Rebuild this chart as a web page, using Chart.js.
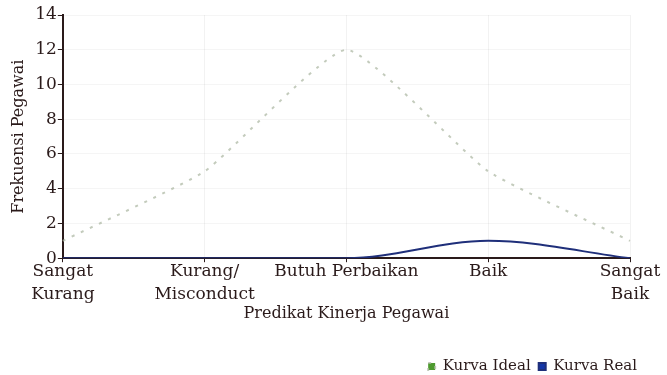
<!DOCTYPE html>
<html>
<head>
<meta charset="utf-8">
<style>
  html, body { margin: 0; padding: 0; background: #fff; }
  #wrap { width: 667px; height: 375px; }
</style>
<script src="https://cdn.jsdelivr.net/npm/chart.js@4/dist/chart.umd.min.js"></script>
</head>
<body>
<div id="wrap"><canvas id="kurva" width="667" height="375"></canvas></div>
<script>
// Categories and series
const predikat = [['Sangat', 'Kurang'], ['Kurang/', 'Misconduct'], 'Butuh Perbaikan', 'Baik', ['Sangat', 'Baik']];
const kurvaIdeal = [1, 5, 12, 5, 1];
const kurvaReal = [0, 0, 0, 1, 0];
const yTicks = [0, 2, 4, 6, 8, 10, 12, 14];

const serif = "'DejaVu Serif', 'Liberation Serif', serif";
const ink = '#2a1a1a';

const data = {
  labels: predikat,
  datasets: [{
    label: 'Kurva Ideal',
    data: kurvaIdeal,
    borderColor: 'rgba(175, 185, 165, 0.75)',
    backgroundColor: '#4d9a2e',
    borderDash: [3, 7],
    borderWidth: 2,
    pointRadius: 0,
    tension: 0.15
  }, {
    label: 'Kurva Real',
    data: kurvaReal,
    borderColor: '#1f2f7a',
    backgroundColor: '#1436a8',
    borderWidth: 2,
    pointRadius: 0,
    cubicInterpolationMode: 'monotone'
  }]
};

const options = {
  responsive: false,
  animation: false,
  layout: { padding: { top: 15, left: 9, right: 22, bottom: -9 } },
  plugins: {
    legend: {
      position: 'bottom',
      align: 'end',
      labels: {
        boxWidth: 7,
        boxHeight: 7,
        padding: 8,
        color: ink,
        font: { family: serif, size: 15 }
      }
    },
    tooltip: { enabled: false }
  },
  scales: {
    x: {
      offset: false,
      // leave room on the right like the printed chart
      afterFit: function (axis) {
        axis.paddingRight = 37;
      },
      grid: { color: 'rgba(0,0,0,0.05)', tickLength: 4, tickColor: ink },
      border: { color: ink, width: 2 },
      ticks: {
        color: ink,
        maxRotation: 0,
        autoSkip: false,
        padding: -3,
        font: { family: serif, size: 17, lineHeight: 1.4 }
      },
      title: {
        display: true,
        text: 'Predikat Kinerja Pegawai',
        color: ink,
        font: { family: serif, size: 16 },
        padding: { top: 0, bottom: 28 }
      }
    },
    y: {
      min: 0,
      max: 14,
      afterBuildTicks: function (axis) {
        axis.ticks = yTicks.map(v => ({ value: v }));
      },
      grid: { color: 'rgba(0,0,0,0.04)', tickLength: 5, tickColor: ink },
      border: { color: ink, width: 2 },
      ticks: {
        color: ink,
        padding: 1,
        font: { family: serif, size: 17 }
      },
      title: {
        display: true,
        text: 'Frekuensi Pegawai',
        color: ink,
        font: { family: serif, size: 16 },
        padding: { top: 0, bottom: 6 }
      }
    }
  }
};

new Chart(document.getElementById('kurva'), {
  type: 'line',
  data: data,
  options: options
});
</script>
</body>
</html>
